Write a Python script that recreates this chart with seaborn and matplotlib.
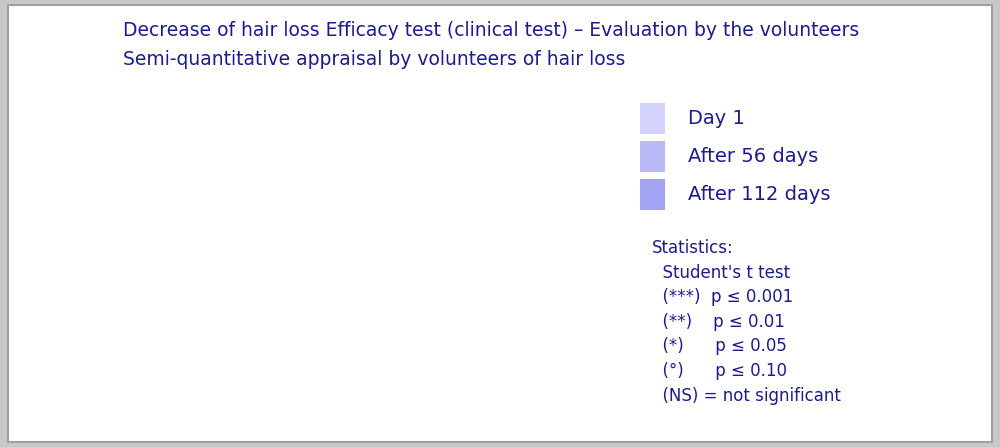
import matplotlib
matplotlib.use("Agg")
import matplotlib.pyplot as plt
import seaborn as sns
import pandas as pd
from matplotlib.patches import Polygon, Rectangle

categories = ["Combing", "Shampoo", "On the pillow"]
series = ["Day 1", "After 56 days", "After 112 days"]
day1 = [0.90, 1.53, 0.79]
d56 = [0.84, 0.96, 0.49]
d112 = [0.68, 0.90, 0.43]
err = [[0.14, 0.16, 0.16], [0.14, 0.16, 0.13], [0.12, 0.14, 0.12]]
labels = {(0, 1): "-7%\n(NS)", (0, 2): "-24%\n(°)", (1, 1): "-37%\n(***)",
          (1, 2): "-41%\n(***)", (2, 1): "-38%\n(**)", (2, 2): "-45%\n(**)"}
colors = ["#d2d2fb", "#babaf8", "#a3a3f4"]
navy = "#1c1c8f"

df = pd.DataFrame({"cat": categories * 3,
                   "series": sum([[s] * 3 for s in series], []),
                   "val": day1 + d56 + d112})

fig = plt.figure(figsize=(10, 4.47), dpi=100)
fig.patch.set_facecolor("#c8c8c8")
fig.add_artist(Rectangle((0.008, 0.012), 0.984, 0.976, transform=fig.transFigure,
                         facecolor="white", edgecolor="#a0a0a0", lw=1.5))
ax = fig.add_axes([0.175, 0.094, 0.41, 0.686])
ax.set_facecolor("none")
sns.barplot(data=df, x="cat", y="val", hue="series", palette=colors, ax=ax,
            width=0.9, saturation=1, legend=False, errorbar=None)
dx, dy = 0.11, 0.085
ax.set_xlim(-0.5, 2.5)
ax.set_ylim(0, 2)
shade = ["#b8b8ee", "#a4a4ec", "#8c8ce6"]
top = ["#e0e0fd", "#cfcffb", "#bcbcf8"]
bar_containers = list(ax.containers)
for i, cont in enumerate(bar_containers):
    for j, p in enumerate(cont):
        x0, w, h = p.get_x(), p.get_width(), p.get_height()
        z = 2 + j * 10 + i * 2
        p.set_zorder(z + 1); p.set_edgecolor("none")
        ax.add_patch(Polygon([(x0 + w, 0), (x0 + w + dx, dy), (x0 + w + dx, h + dy), (x0 + w, h)],
                             facecolor=shade[i], zorder=z, clip_on=False))
        ax.add_patch(Polygon([(x0, h), (x0 + dx, h + dy), (x0 + w + dx, h + dy), (x0 + w, h)],
                             facecolor=top[i], zorder=z, clip_on=False))
        xc = x0 + w / 2 + dx
        ax.errorbar([xc], [h + dy], yerr=[[0], [err[i][j]]], color="#b8b8b8",
                    capsize=5, lw=1.2, zorder=z - 1, clip_on=False)
        if (j, i) in labels:
            ax.text(x0 + w / 2 + 0.03, h + dy + err[i][j] + 0.12, labels[(j, i)],
                    ha="center", va="bottom", color=navy, fontsize=12, linespacing=1.7)

kw = dict(color=navy, lw=1.5, clip_on=False, zorder=0)
ax.plot([-0.5 + dx, 2.5 + dx, 2.5 + dx], [2 + dy, 2 + dy, dy], **kw)
ax.plot([-0.5 + dx, -0.5 + dx, 2.5 + dx], [2 + dy, dy, dy], **kw)
ax.plot([-0.5, -0.5 + dx], [2, 2 + dy], **kw)
ax.plot([-0.5, -0.5 + dx], [0, dy], **kw)
ax.plot([2.5, 2.5 + dx], [0, dy], **kw)
for s in ["top", "right"]:
    ax.spines[s].set_visible(False)
for s in ["left", "bottom"]:
    ax.spines[s].set_color(navy); ax.spines[s].set_linewidth(1.5)
ax.set_yticks([0, 0.2, 0.4, 0.6, 0.8, 1, 1.2, 1.4, 1.6, 1.8, 2])
ax.set_yticklabels(["0", "0.2", "0.4", "0.6", "0.8", "1", "1.2", "1.4", "1.6", "1.8", "2"])
ax.tick_params(colors=navy, labelcolor=navy, labelsize=13)
ax.tick_params(axis="x", length=0, labelsize=14)
ax.set_xlabel(""); ax.set_ylabel("")
ax.set_xticks([-0.5, 0.5, 1.5, 2.5], minor=True)
ax.tick_params(axis="x", which="minor", length=6, color=navy)

fig.text(0.123, 0.92, "Decrease of hair loss Efficacy test (clinical test) – Evaluation by the volunteers",
         color=navy, fontsize=13.5)
fig.text(0.123, 0.855, "Semi-quantitative appraisal by volunteers of hair loss", color=navy, fontsize=13.5)
for k, s in enumerate(series):
    yk = 0.735 - k * 0.085
    fig.add_artist(Rectangle((0.64, yk - 0.035), 0.025, 0.07, transform=fig.transFigure,
                             facecolor=colors[k], edgecolor="none"))
    fig.text(0.688, yk, s, color=navy, fontsize=14, va="center")
fig.text(0.652, 0.445, "Statistics:", color=navy, fontsize=12, va="center")
stats = ["  Student's t test", "  (***)  p ≤ 0.001", "  (**)    p ≤ 0.01",
         "  (*)      p ≤ 0.05", "  (°)      p ≤ 0.10", "  (NS) = not significant"]
for k, s in enumerate(stats):
    fig.text(0.652, 0.39 - k * 0.055, s, color=navy, fontsize=12, va="center")
fig.savefig("out.png", dpi=100, facecolor=fig.get_facecolor())
